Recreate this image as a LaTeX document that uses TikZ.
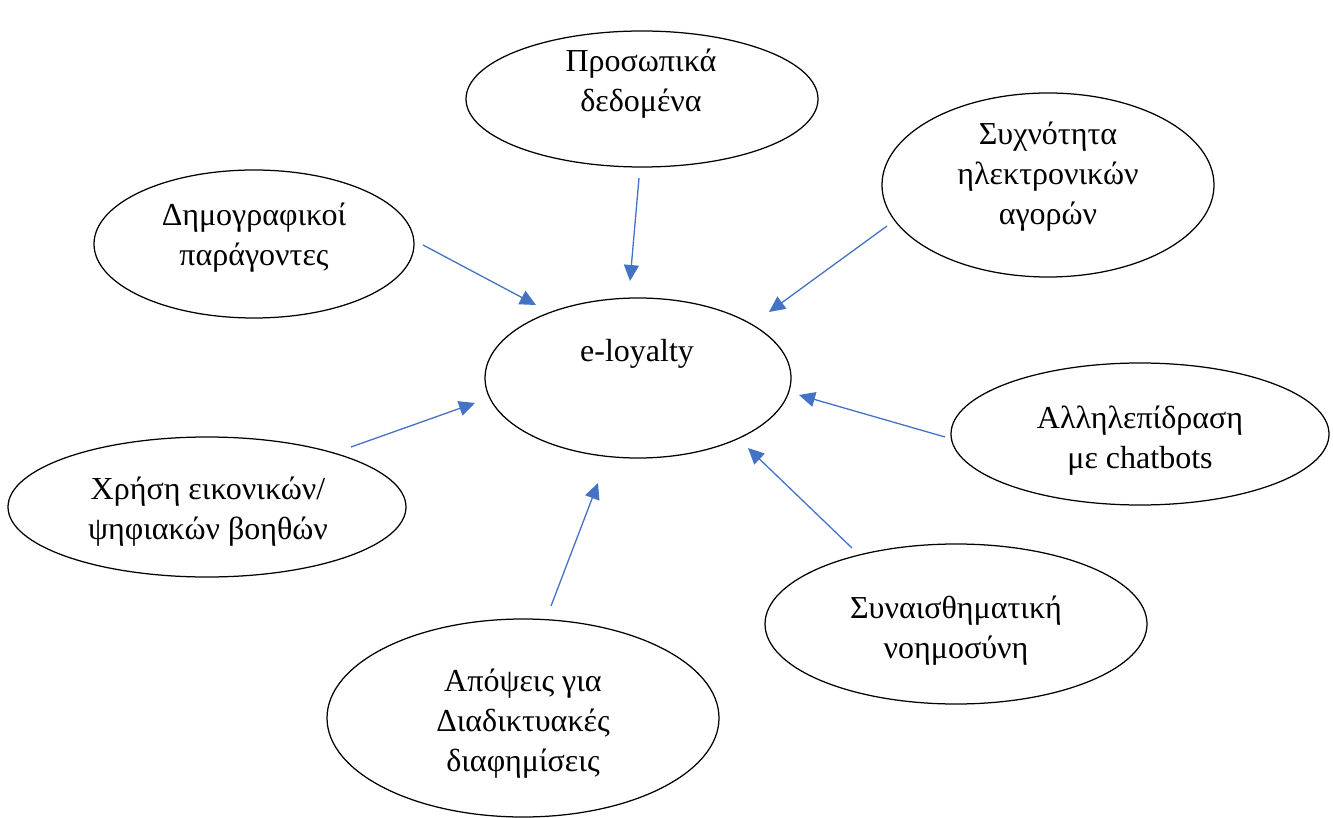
\documentclass[tikz,border=0pt]{standalone}
\usepackage{fontspec}
\setmainfont{Liberation Serif}
\usetikzlibrary{shapes.geometric,arrows.meta}
\definecolor{arrblue}{HTML}{4472C4}
\tikzset{
  ell/.style={draw=black, line width=1.25pt, ellipse, inner sep=0pt},
  txt/.style={align=center, inner sep=0pt, font=\fontsize{32}{40}\selectfont},
  arr/.style={draw=arrblue, line width=1.3pt, -{Triangle[length=16pt,width=15pt]}}
}
\begin{document}
\begin{tikzpicture}[x=1pt,y=-1pt]
\useasboundingbox (0,0) rectangle (1333,818);
% ellipses
\node[ell, minimum width=352pt, minimum height=136pt] (pd) at (642,99) {};
\node[ell, minimum width=320pt, minimum height=148pt] (dp) at (254,244) {};
\node[ell, minimum width=332pt, minimum height=184pt] (sa) at (1048,185) {};
\node[ell, minimum width=306pt, minimum height=160pt] (el) at (638,378) {};
\node[ell, minimum width=378pt, minimum height=142pt] (ac) at (1140,434) {};
\node[ell, minimum width=398pt, minimum height=140pt] (xe) at (207,507) {};
\node[ell, minimum width=382pt, minimum height=160pt] (sn) at (956,624) {};
\node[ell, minimum width=392pt, minimum height=198pt] (ad) at (523,718) {};
% texts
\node[txt] (tpd) at (641,84) {\strut Προσωπικά\\\strut δεδομένα};
\node[txt] (tdp) at (254,238) {\strut Δημογραφικοί\\\strut παράγοντες};
\node[txt] (tsa) at (1048,177) {\strut Συχνότητα\\\strut ηλεκτρονικών\\\strut αγορών};
\node[txt] (tel) at (637,353) {\strut e-loyalty};
\node[txt] (tac) at (1140,440) {\strut Αλληλεπίδραση\\\strut με chatbots};
\node[txt] (txe) at (208,511) {\strut Χρήση εικονικών/\\\strut ψηφιακών βοηθών};
\node[txt] (tsn) at (956,630) {\strut Συναισθηματική\\\strut νοημοσύνη};
\node[txt] (tad) at (523,723) {\strut Απόψεις για\\\strut Διαδικτυακές\\\strut διαφημίσεις};
% arrow end points
\coordinate (s1) at (639,178); \coordinate (e1) at (630,281);
\coordinate (s2) at (423,245); \coordinate (e2) at (536,305);
\coordinate (s3) at (887,226); \coordinate (e3) at (769,312);
\coordinate (s4) at (945,437); \coordinate (e4) at (799,395);
\coordinate (s5) at (852,548); \coordinate (e5) at (748,448);
\coordinate (s6) at (551,606); \coordinate (e6) at (598,483);
\coordinate (s7) at (351,447); \coordinate (e7) at (475,403);
\foreach \i in {1,...,7} { \draw[arr] (s\i) -- (e\i); }
\end{tikzpicture}
\end{document}
